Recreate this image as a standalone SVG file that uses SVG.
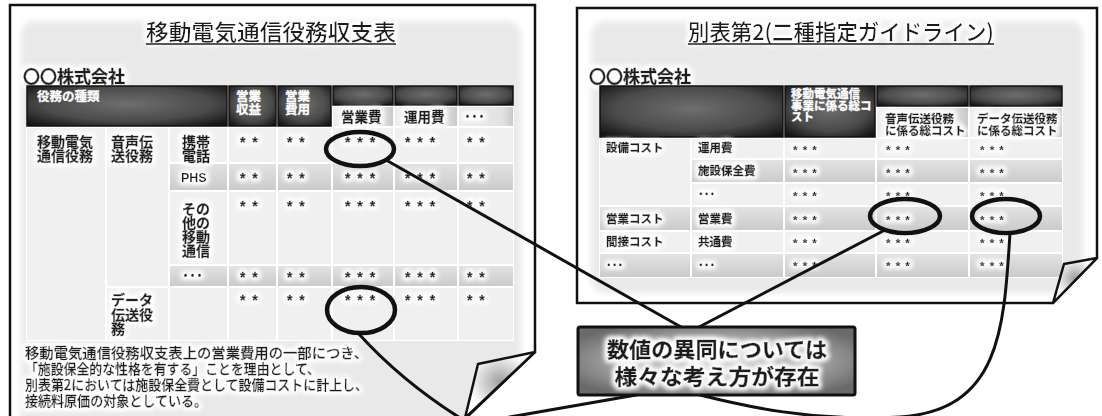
<svg xmlns="http://www.w3.org/2000/svg" width="1102" height="416" viewBox="0 0 1102 416">
<defs>
<style>
.jp{font-family:'Noto Sans CJK JP','Noto Sans CJK SC',sans-serif;font-weight:700;fill:#1c1c1c}
.ttl{font-size:22px;font-weight:500}
.co{font-size:17px;stroke:#1c1c1c;stroke-width:0.5}
.hd{fill:#fff;font-size:12.5px;stroke:#fff;stroke-width:0.3}
.cl{font-size:14px;stroke:#1c1c1c;stroke-width:0.4}
.rc{font-size:11.5px;stroke:#1c1c1c;stroke-width:0.35}
.rw{fill:#fff;stroke:#fff}
.bt{font-size:14px;font-weight:500;stroke:#1c1c1c;stroke-width:0.3}
.bx{font-size:21px;stroke:#1c1c1c;stroke-width:0.4}
.ph{font-family:'Liberation Sans',Arial,sans-serif;font-weight:700;font-size:12.5px;fill:#1c1c1c}
.v{font-family:'Liberation Sans',Arial,sans-serif;font-weight:700;font-size:14px;letter-spacing:1.5px;fill:#1c1c1c;stroke:#1c1c1c;stroke-width:0.4}
.vr{font-family:'Liberation Sans',Arial,sans-serif;font-weight:700;font-size:11.5px;letter-spacing:1px;fill:#1c1c1c;stroke:#1c1c1c;stroke-width:0.3}
.pg{fill:#fff;stroke:none}
.ol{fill:none;stroke:#111;stroke-width:2.5;stroke-linejoin:miter}
.lt{fill:#f0f0f0}
.gr{fill:url(#gRow)}
.dk{fill:url(#gDark);stroke:#111;stroke-width:1.5}
.sb{fill:url(#gSub)}
.conn{fill:none;stroke:#111;stroke-width:3;stroke-linecap:round}
.ell{fill:none;stroke:#111;stroke-width:4.5}
.ul{stroke:#222;stroke-width:1.5}
</style>
<radialGradient id="gDark" cx="50%" cy="45%" r="70%"><stop offset="0" stop-color="#6e6e6e"/><stop offset="0.6" stop-color="#4b4b4b"/><stop offset="1" stop-color="#121212"/></radialGradient>
<linearGradient id="gRow" x1="0" y1="0" x2="0" y2="1"><stop offset="0" stop-color="#e2e2e2"/><stop offset="1" stop-color="#cbcbcb"/></linearGradient>
<linearGradient id="gSub" x1="0" y1="0" x2="1" y2="0"><stop offset="0" stop-color="#eeeeee"/><stop offset="0.8" stop-color="#e2e2e2"/><stop offset="1" stop-color="#c9c9c9"/></linearGradient>
<radialGradient id="gBox" cx="50%" cy="50%" r="60%"><stop offset="0" stop-color="#d2d2d2"/><stop offset="0.55" stop-color="#acacac"/><stop offset="1" stop-color="#6a6a6a"/></radialGradient>
<radialGradient id="gFlap" cx="50%" cy="45%" r="45%"><stop offset="0" stop-color="#a0a0a0"/><stop offset="1" stop-color="#ffffff"/></radialGradient>
<filter id="soft" x="-5%" y="-5%" width="110%" height="110%"><feGaussianBlur stdDeviation="3"/></filter>
<filter id="glow" x="-10%" y="-30%" width="120%" height="160%">
<feMorphology in="SourceAlpha" operator="dilate" radius="2" result="d"/>
<feGaussianBlur in="d" stdDeviation="2.5" result="b"/>
<feFlood flood-color="#ffffff"/>
<feComposite in2="b" operator="in" result="w"/>
<feMerge><feMergeNode in="w"/><feMergeNode in="w"/><feMergeNode in="SourceGraphic"/></feMerge>
</filter>
<clipPath id="clipL"><polygon points="10,5 535,5 535,352 466,418 10,418"/></clipPath>
<clipPath id="clipR"><polygon points="577,8 1097,8 1097,258 1053,303 577,303"/></clipPath>
</defs>

<g id="left-page">
<polygon class="pg" points="10,5 535,5 535,352 466,418 10,418"/>
<rect x="21" y="21" width="500" height="410" rx="14" fill="#e9e9e9" filter="url(#soft)" clip-path="url(#clipL)"/>
<g filter="url(#glow)">
<text class="jp ttl" x="271" y="40" text-anchor="middle" textLength="250" lengthAdjust="spacingAndGlyphs">移動電気通信役務収支表</text>
<text class="jp co" x="23" y="83">〇〇株式会社</text>
</g>
<line class="ul" x1="146" y1="44" x2="396" y2="44"/>
<g id="left-table">
<rect x="26" y="85" width="488" height="256" fill="#fff"/>
<rect class="dk" x="27" y="86" width="200" height="40"/>
<rect class="dk" x="229" y="86" width="47" height="40"/>
<rect class="dk" x="278" y="86" width="53" height="40"/>
<rect class="dk" x="333" y="86" width="60" height="19"/>
<rect class="dk" x="395" y="86" width="62" height="19"/>
<rect class="dk" x="459" y="86" width="54" height="19"/>
<rect class="sb" x="333" y="107" width="60" height="19"/>
<rect class="sb" x="395" y="107" width="62" height="19"/>
<rect class="sb" x="459" y="107" width="54" height="19"/>
<text class="jp hd" x="37" y="101">役務の種類</text>
<text class="jp hd" x="236" y="101">営業<tspan x="236" dy="13">収益</tspan></text>
<text class="jp hd" x="285" y="101">営業<tspan x="285" dy="13">費用</tspan></text>

<rect class="lt" x="27" y="128" width="78" height="212"/>
<rect class="lt" x="107" y="128" width="61" height="158"/>
<rect class="lt" x="107" y="288" width="61" height="52"/>

<rect class="lt" x="170" y="128" width="57" height="34"/><rect class="lt" x="229" y="128" width="47" height="34"/><rect class="lt" x="278" y="128" width="53" height="34"/><rect class="lt" x="333" y="128" width="60" height="34"/><rect class="lt" x="395" y="128" width="62" height="34"/><rect class="lt" x="459" y="128" width="54" height="34"/>
<rect class="gr" x="170" y="164" width="57" height="26"/><rect class="gr" x="229" y="164" width="47" height="26"/><rect class="gr" x="278" y="164" width="53" height="26"/><rect class="gr" x="333" y="164" width="60" height="26"/><rect class="gr" x="395" y="164" width="62" height="26"/><rect class="gr" x="459" y="164" width="54" height="26"/>
<rect class="lt" x="170" y="192" width="57" height="72"/><rect class="lt" x="229" y="192" width="47" height="72"/><rect class="lt" x="278" y="192" width="53" height="72"/><rect class="lt" x="333" y="192" width="60" height="72"/><rect class="lt" x="395" y="192" width="62" height="72"/><rect class="lt" x="459" y="192" width="54" height="72"/>
<rect class="gr" x="170" y="266" width="57" height="20"/><rect class="gr" x="229" y="266" width="47" height="20"/><rect class="gr" x="278" y="266" width="53" height="20"/><rect class="gr" x="333" y="266" width="60" height="20"/><rect class="gr" x="395" y="266" width="62" height="20"/><rect class="gr" x="459" y="266" width="54" height="20"/>
<rect class="lt" x="170" y="288" width="57" height="52"/><rect class="lt" x="229" y="288" width="47" height="52"/><rect class="lt" x="278" y="288" width="53" height="52"/><rect class="lt" x="333" y="288" width="60" height="52"/><rect class="lt" x="395" y="288" width="62" height="52"/><rect class="lt" x="459" y="288" width="54" height="52"/>

<g filter="url(#glow)">
<text class="jp cl" x="341" y="122" style="font-size:13.5px">営業費</text>
<text class="jp cl" x="404" y="122" style="font-size:13.5px">運用費</text>
<text class="jp cl" x="464" y="121">･･･</text>
<text class="jp cl" x="37" y="147">移動電気<tspan x="37" dy="14">通信役務</tspan></text>
<text class="jp cl" x="111" y="147">音声伝<tspan x="111" dy="14">送役務</tspan></text>
<text class="jp cl" x="182" y="147">携帯<tspan x="182" dy="14">電話</tspan></text>
<text class="ph" x="181" y="182">PHS</text>
<text class="jp cl" x="182" y="214">その<tspan x="182" dy="14">他の</tspan><tspan x="182" dy="14">移動</tspan><tspan x="182" dy="14">通信</tspan></text>
<text class="jp cl" x="182" y="280">･･･</text>
<text class="jp cl" x="111" y="305">データ<tspan x="111" dy="15">伝送役</tspan><tspan x="111" dy="14">務</tspan></text>
<text class="v" x="240" y="147">* *</text><text class="v" x="287" y="147">* *</text><text class="v" x="345" y="147">* * *</text><text class="v" x="405" y="147">* * *</text><text class="v" x="467" y="147">* *</text>
<text class="v" x="240" y="183">* *</text><text class="v" x="287" y="183">* *</text><text class="v" x="345" y="183">* * *</text><text class="v" x="405" y="183">* * *</text><text class="v" x="467" y="183">* *</text>
<text class="v" x="240" y="211">* *</text><text class="v" x="287" y="211">* *</text><text class="v" x="345" y="211">* * *</text><text class="v" x="405" y="211">* * *</text><text class="v" x="467" y="211">* *</text>
<text class="v" x="240" y="282">* *</text><text class="v" x="287" y="282">* *</text><text class="v" x="345" y="282">* * *</text><text class="v" x="405" y="282">* * *</text><text class="v" x="467" y="282">* *</text>
<text class="v" x="240" y="305">* *</text><text class="v" x="287" y="305">* *</text><text class="v" x="345" y="305">* * *</text><text class="v" x="405" y="305">* * *</text><text class="v" x="467" y="305">* *</text>
</g>
</g>
<g filter="url(#glow)">
<text class="jp bt" x="25" y="358" textLength="343" lengthAdjust="spacingAndGlyphs">移動電気通信役務収支表上の営業費用の一部につき、</text>
<text class="jp bt" x="25" y="374" textLength="295" lengthAdjust="spacingAndGlyphs">「施設保全的な性格を有する」ことを理由として、</text>
<text class="jp bt" x="25" y="390" textLength="343" lengthAdjust="spacingAndGlyphs">別表第2においては施設保全費として設備コストに計上し、</text>
<text class="jp bt" x="25" y="406" textLength="182" lengthAdjust="spacingAndGlyphs">接続料原価の対象としている。</text>
</g>
<polygon class="ol" points="10,5 535,5 535,352 466,418 10,418"/>
<polygon points="535,352 478,364 465,418" fill="url(#gFlap)" stroke="#111" stroke-width="2.5" stroke-linejoin="round"/>
</g>

<g id="right-page">
<polygon class="pg" points="577,8 1097,8 1097,258 1053,303 577,303"/>
<rect x="591" y="21" width="492" height="272" rx="14" fill="#e9e9e9" filter="url(#soft)" clip-path="url(#clipR)"/>
<g filter="url(#glow)">
<text class="jp ttl" x="841" y="40" text-anchor="middle" textLength="306" lengthAdjust="spacingAndGlyphs">別表第2(二種指定ガイドライン)</text>
<text class="jp co" x="589" y="83">〇〇株式会社</text>
</g>
<line class="ul" x1="688" y1="44" x2="994" y2="44"/>
<g id="right-table">
<rect x="599" y="85" width="464" height="193" fill="#fff"/>
<rect class="dk" x="600" y="86" width="183" height="51"/>
<rect class="dk" x="785" y="86" width="90" height="51"/>
<rect class="dk" x="877" y="86" width="91" height="20"/>
<rect class="dk" x="970" y="86" width="92" height="20"/>
<rect class="sb" x="877" y="108" width="91" height="29"/>
<rect class="sb" x="970" y="108" width="92" height="29"/>
<text class="jp rc rw" x="791" y="98">移動電気通信<tspan x="791" dy="12">事業に係る総コ</tspan><tspan x="791" dy="11">スト</tspan></text>

<rect class="lt" x="600" y="139" width="90" height="66"/>
<rect class="gr" x="600" y="207" width="90" height="23"/>
<rect class="lt" x="600" y="232" width="90" height="20"/>
<rect class="gr" x="600" y="254" width="90" height="23"/>

<rect class="lt" x="692" y="139" width="91" height="19"/><rect class="lt" x="785" y="139" width="90" height="19"/><rect class="lt" x="877" y="139" width="91" height="19"/><rect class="lt" x="970" y="139" width="92" height="19"/>
<rect class="gr" x="692" y="160" width="91" height="22"/><rect class="gr" x="785" y="160" width="90" height="22"/><rect class="gr" x="877" y="160" width="91" height="22"/><rect class="gr" x="970" y="160" width="92" height="22"/>
<rect class="lt" x="692" y="184" width="91" height="21"/><rect class="lt" x="785" y="184" width="90" height="21"/><rect class="lt" x="877" y="184" width="91" height="21"/><rect class="lt" x="970" y="184" width="92" height="21"/>
<rect class="gr" x="692" y="207" width="91" height="23"/><rect class="gr" x="785" y="207" width="90" height="23"/><rect class="gr" x="877" y="207" width="91" height="23"/><rect class="gr" x="970" y="207" width="92" height="23"/>
<rect class="lt" x="692" y="232" width="91" height="20"/><rect class="lt" x="785" y="232" width="90" height="20"/><rect class="lt" x="877" y="232" width="91" height="20"/><rect class="lt" x="970" y="232" width="92" height="20"/>
<rect class="gr" x="692" y="254" width="91" height="23"/><rect class="gr" x="785" y="254" width="90" height="23"/><rect class="gr" x="877" y="254" width="91" height="23"/><rect class="gr" x="970" y="254" width="92" height="23"/>

<g filter="url(#glow)">
<text class="jp rc" x="885" y="123">音声伝送役務<tspan x="885" dy="12">に係る総コスト</tspan></text>
<text class="jp rc" x="977" y="123">データ伝送役務<tspan x="977" dy="12">に係る総コスト</tspan></text>
<text class="jp rc" x="606" y="152">設備コスト</text>
<text class="jp rc" x="606" y="223">営業コスト</text>
<text class="jp rc" x="606" y="246">間接コスト</text>
<text class="jp rc" x="606" y="269">･･･</text>
<text class="jp rc" x="698" y="152">運用費</text>
<text class="jp rc" x="698" y="175">施設保全費</text>
<text class="jp rc" x="698" y="198">･･･</text>
<text class="jp rc" x="698" y="223">営業費</text>
<text class="jp rc" x="698" y="246">共通費</text>
<text class="jp rc" x="698" y="269">･･･</text>
<text class="vr" x="793" y="154">* * *</text><text class="vr" x="886" y="154">* * *</text><text class="vr" x="980" y="154">* * *</text>
<text class="vr" x="793" y="177">* * *</text><text class="vr" x="886" y="177">* * *</text><text class="vr" x="980" y="177">* * *</text>
<text class="vr" x="793" y="200">* * *</text><text class="vr" x="886" y="200">* * *</text><text class="vr" x="980" y="200">* * *</text>
<text class="vr" x="793" y="224">* * *</text><text class="vr" x="886" y="224">* * *</text><text class="vr" x="980" y="224">* * *</text>
<text class="vr" x="793" y="247">* * *</text><text class="vr" x="886" y="247">* * *</text><text class="vr" x="980" y="247">* * *</text>
<text class="vr" x="793" y="270">* * *</text><text class="vr" x="886" y="270">* * *</text><text class="vr" x="980" y="270">* * *</text>
</g>
</g>
<polygon class="ol" points="577,8 1097,8 1097,258 1053,303 577,303"/>
<polygon points="1097,258 1064,264 1053,303" fill="url(#gFlap)" stroke="#111" stroke-width="2.5" stroke-linejoin="round"/>
</g>

<g id="connectors">
<ellipse class="ell" cx="360" cy="149" rx="34" ry="17"/>
<ellipse class="ell" cx="361" cy="310" rx="34" ry="23"/>
<ellipse class="ell" cx="905" cy="216" rx="35" ry="17"/>
<ellipse class="ell" cx="1006" cy="216" rx="34" ry="17"/>
<path class="conn" d="M386,160 L681,327"/>
<path class="conn" d="M885,230 L699,327"/>
<path class="conn" d="M358,333 Q405,385 470,424 L636,395"/>
<path class="conn" d="M1010,233 C1004,330 1000,410 900,417 C810,422 740,405 700,395"/>
</g>

<g id="callout">
<rect x="578" y="327" width="277" height="68" rx="2" fill="url(#gBox)" stroke="#111" stroke-width="3"/>
<g filter="url(#glow)">
<text class="jp bx" x="717" y="357" text-anchor="middle" textLength="220" lengthAdjust="spacingAndGlyphs">数値の異同については</text>
<text class="jp bx" x="717" y="384" text-anchor="middle" textLength="205" lengthAdjust="spacingAndGlyphs">様々な考え方が存在</text>
</g>
</g>
</svg>
